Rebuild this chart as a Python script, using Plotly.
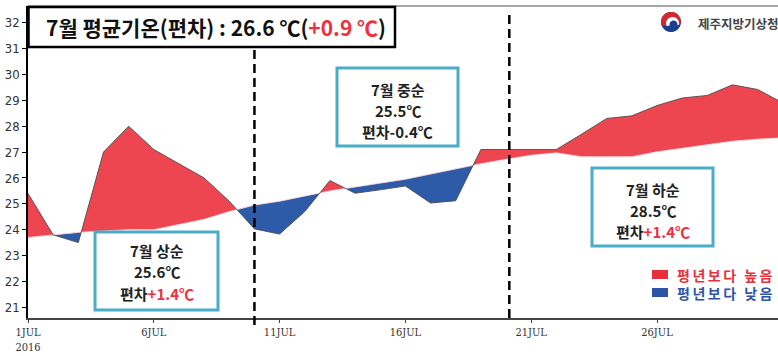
import plotly.graph_objects as go
import math

# ---------------- data ----------------
days = list(range(1, 32))
normal = [23.7, 23.8, 23.9, 23.95, 24.0, 24.0, 24.2, 24.4, 24.7, 24.95,
          25.1, 25.3, 25.5, 25.65, 25.8, 25.95, 26.15, 26.35, 26.55, 26.72,
          26.88, 26.97, 26.82, 26.82, 26.82, 27.01, 27.14, 27.27, 27.42, 27.5, 27.55]
observed = [25.4, 23.8, 23.5, 27.0, 28.0, 27.1, 26.55, 26.0, 25.1, 24.03,
            23.83, 24.7, 25.9, 25.41, 25.54, 25.69, 25.03, 25.12, 27.1, 27.1,
            27.1, 27.1, 27.69, 28.3, 28.4, 28.8, 29.09, 29.19, 29.6, 29.42, 28.9]
tick_days = [1, 6, 11, 16, 21, 26]
tick_labels = ["1JUL<br>2016", "6JUL", "11JUL", "16JUL", "21JUL", "26JUL"]
y_ticks = list(range(21, 33))
dekad_splits = [10, 20.13]

title_main = "7월 평균기온(편차) : 26.6 ℃("
title_dev = "+0.9 ℃"
boxes = [
    ("7월 상순", "25.6℃", "편차", "+1.4℃", True),
    ("7월 중순", "25.5℃", "편차", "-0.4℃", False),
    ("7월 하순", "28.5℃", "편차", "+1.4℃", True),
]
legend_hi = "평년보다 높음"
legend_lo = "평년보다 낮음"
org_name = "제주지방기상청"

RED = "#EE4651"
BLUE = "#2E5BA8"
TEAL = "#4BACC6"
TXT_RED = "#F0303C"

# ---------------- crossing-augmented series ----------------
xs, ob, nm = [], [], []
for i in range(len(days)):
    if i > 0:
        d0 = observed[i - 1] - normal[i - 1]
        d1 = observed[i] - normal[i]
        if d0 * d1 < 0:
            t = d0 / (d0 - d1)
            xc = days[i - 1] + t * (days[i] - days[i - 1])
            yc = normal[i - 1] + t * (normal[i] - normal[i - 1])
            xs.append(xc); ob.append(yc); nm.append(yc)
    xs.append(days[i]); ob.append(observed[i]); nm.append(normal[i])
upper = [max(a, b) for a, b in zip(ob, nm)]
lower = [min(a, b) for a, b in zip(ob, nm)]

fig = go.Figure()
fig.add_trace(go.Scatter(x=xs, y=nm, mode="lines", line=dict(width=0), hoverinfo="skip", showlegend=False))
fig.add_trace(go.Scatter(x=xs, y=upper, mode="lines", line=dict(width=0), fill="tonexty",
                         fillcolor=RED, hoverinfo="skip", showlegend=False))
fig.add_trace(go.Scatter(x=xs, y=nm, mode="lines", line=dict(width=0), hoverinfo="skip", showlegend=False))
fig.add_trace(go.Scatter(x=xs, y=lower, mode="lines", line=dict(width=0), fill="tonexty",
                         fillcolor=BLUE, hoverinfo="skip", showlegend=False))
fig.add_trace(go.Scatter(x=xs, y=nm, mode="lines", line=dict(width=1, color="rgba(255,220,225,0.8)"),
                         hoverinfo="skip", showlegend=False))
fig.add_trace(go.Scatter(x=days, y=observed, mode="lines", line=dict(width=1, color="rgba(70,70,70,0.85)"),
                         hoverinfo="skip", showlegend=False))

# ---------------- layout geometry ----------------
WID, HEI = 778, 356
L, T, B, R = 28, 6, 38, 0
PW, PH = WID - L - R, HEI - T - B
PX_PER_DAY = 25.16
PX_PER_DEG = 25.87
x_range = [1, 1 + PW / PX_PER_DAY]
y_lo = 21 - (318 - 307.3) / PX_PER_DEG
y_range = [y_lo, y_lo + PH / PX_PER_DEG]


def px(x):
    return (x - L) / PW


def py(y):
    return (T + PH - y) / PH


shapes = []
annotations = []
KFONT = "Noto Sans CJK KR"

# top frame line
shapes.append(dict(type="line", xref="paper", yref="paper", x0=0, x1=1, y0=1, y1=1,
                   line=dict(color="#888", width=1.5)))

# dashed dekad separators
shapes.append(dict(type="line", xref="x", yref="paper", x0=dekad_splits[0], x1=dekad_splits[0],
                   y0=py(325), y1=py(48), line=dict(color="black", width=2.5, dash="9px,5px")))
shapes.append(dict(type="line", xref="x", yref="paper", x0=dekad_splits[1], x1=dekad_splits[1],
                   y0=py(318), y1=py(10), line=dict(color="black", width=2.5, dash="9px,5px")))

# title box
shapes.append(dict(type="rect", xref="paper", yref="paper", x0=px(28.5), x1=px(395), y0=py(47), y1=py(7),
                   line=dict(color="black", width=2.5), fillcolor="white"))
annotations.append(dict(xref="paper", yref="paper", x=px(216), y=py(27), xanchor="center", yanchor="middle",
                        showarrow=False,
                        text="<b>" + title_main + "<span style='color:%s'>" % TXT_RED + title_dev + "</span>)</b>",
                        font=dict(family=KFONT, size=21, color="#111")))

# annotation boxes
box_geom = [
    (95, 218, 232, 310, [250, 271.5, 293]),
    (337, 458, 68, 146, [89, 110, 131]),
    (592, 713, 168, 246, [189, 210, 231]),
]
for (l1, l2, pre, dev, pos), (x0, x1, y0, y1, ly) in zip(boxes, box_geom):
    shapes.append(dict(type="rect", xref="paper", yref="paper", x0=px(x0), x1=px(x1), y0=py(y1), y1=py(y0),
                       line=dict(color=TEAL, width=3), fillcolor="white"))
    cx = px((x0 + x1) / 2)
    devtxt = "<span style='color:%s'>%s</span>" % (TXT_RED, dev) if pos else dev
    for txt, yy in zip([l1, l2, pre + devtxt], ly):
        annotations.append(dict(xref="paper", yref="paper", x=cx, y=py(yy), xanchor="center", yanchor="middle",
                                showarrow=False, text="<b>" + txt + "</b>",
                                font=dict(family=KFONT, size=15, color="#222")))

# legend
shapes.append(dict(type="rect", xref="paper", yref="paper", x0=px(652), x1=px(668), y0=py(279), y1=py(270),
                   line=dict(width=0), fillcolor="#E8303A"))
shapes.append(dict(type="rect", xref="paper", yref="paper", x0=px(652), x1=px(668), y0=py(297), y1=py(288),
                   line=dict(width=0), fillcolor="#2E55A5"))
annotations.append(dict(xref="paper", yref="paper", x=px(675), y=py(283.5), xanchor="left", yanchor="middle",
                        showarrow=False, align="left",
                        text="<b><span style='color:#E8303A;letter-spacing:2.5px'>" + legend_hi + "</span><br>"
                             "<span style='color:#2E55A5;letter-spacing:2.5px'>" + legend_lo + "</span></b>",
                        font=dict(family=KFONT, size=14, color="#E8303A")))

# logo
cxl, cyl, rl = 671, 22, 10


def circ_path(cx, cy, r, a0, a1, n=24, r2=None, cx2=None, cy2=None):
    pts = []
    for k in range(n + 1):
        a = math.radians(a0 + (a1 - a0) * k / n)
        pts.append((cx + r * math.cos(a), cy - r * math.sin(a)))
    if r2 is not None:
        for k in range(n + 1):
            a = math.radians(a1 + (a0 - a1) * k / n)
            pts.append((cx2 + r2 * math.cos(a), cy2 - r2 * math.sin(a)))
    return "M " + " L ".join("%.5f,%.5f" % (px(a), py(b)) for a, b in pts) + " Z"


shapes.append(dict(type="path", xref="paper", yref="paper", path=circ_path(cxl, cyl, rl, 0, 360, n=48),
                   fillcolor="#1D3E8C", line=dict(width=0)))
shapes.append(dict(type="path", xref="paper", yref="paper",
                   path=circ_path(cxl, cyl, rl, 200, -10, n=30, r2=6.5, cx2=cxl + 1.5, cy2=cyl + 1.5),
                   fillcolor="#D9262E", line=dict(width=0)))
shapes.append(dict(type="path", xref="paper", yref="paper",
                   path=circ_path(cxl + 1.5, cyl + 1.5, 6.5, 200, -10, n=30, r2=4, cx2=cxl + 2.5, cy2=cyl + 2.5),
                   fillcolor="white", line=dict(width=0)))
annotations.append(dict(xref="paper", yref="paper", x=px(696), y=py(23), xanchor="left", yanchor="middle",
                        showarrow=False, text="<b>" + org_name + "</b>",
                        font=dict(family=KFONT, size=12.5, color="#444")))

tickfont = dict(family="Liberation Sans Narrow, DejaVu Sans Condensed, Arial", size=13, color="#333")
fig.update_layout(
    width=WID, height=HEI,
    margin=dict(l=L, r=R, t=T, b=B, autoexpand=False),
    paper_bgcolor="white", plot_bgcolor="white",
    showlegend=False,
    shapes=shapes, annotations=annotations,
    xaxis=dict(range=x_range, tickvals=tick_days, ticktext=tick_labels, showgrid=False, zeroline=False,
               automargin=False,
               showline=True, linecolor="#444", linewidth=2, ticks="outside", ticklen=3, tickcolor="#444",
               tickfont=dict(family="DejaVu Serif Condensed, DejaVu Serif", size=11, color="#333")),
    yaxis=dict(range=y_range, tickvals=y_ticks, showgrid=False, zeroline=False, automargin=False,
               showline=True, linecolor="black", linewidth=1.5, ticks="outside", ticklen=4, tickcolor="black",
               tickfont=tickfont),
)

fig.write_html("out.html", config={"displayModeBar": False},
               post_script="document.body.style.margin='0';document.body.style.overflow='hidden';")
